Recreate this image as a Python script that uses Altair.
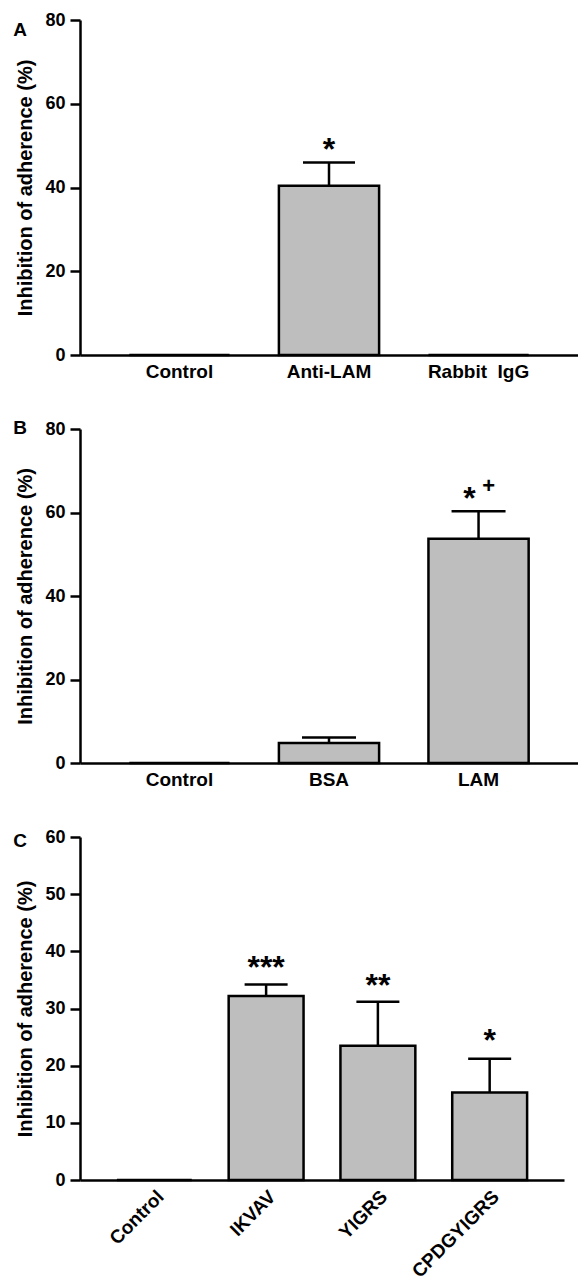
import altair as alt
import pandas as pd

FONT = "Liberation Sans"
FILL = "#bebebe"

# Panel A
a_cats = ["Control", "Anti-LAM", "Rabbit\u00a0 IgG"]
a_vals = [0, 40.4, 0]
a_err = [None, 46.0, None]
a_sig_cat = ["Anti-LAM"]
a_sig_txt = ["*"]
a_sig_y = [50.9]

# Panel B
b_cats = ["Control", "BSA", "LAM"]
b_vals = [0, 4.8, 53.7]
b_err = [None, 6.1, 60.3]
b_sig_cat = ["LAM"]
b_sig_txt = ["*"]
b_sig_y = [65.1]
b_plus_cat = ["LAM"]
b_plus_txt = ["+"]
b_plus_y = [66.3]

# Panel C
c_cats = ["Control", "IKVAV", "YIGRS", "CPDGYIGRS"]
c_vals = [0, 32.2, 23.5, 15.3]
c_err = [None, 34.2, 31.2, 21.2]
c_sig_cat = ["IKVAV", "YIGRS", "CPDGYIGRS"]
c_sig_txt = ["***", "**", "*"]
c_sig_y = [38.4, 35.3, 25.7]

Y_TITLE = "Inhibition of adherence (%)"


def panel(letter, cats, vals, errs, sig_cat, sig_txt, sig_y, ymax, ystep,
          width, height, cap, label_angle=0, letter_y=0, extra=None):
    df = pd.DataFrame({"cat": cats, "val": vals, "err": errs})
    dfe = df.dropna(subset=["err"])
    dfs = pd.DataFrame({"cat": sig_cat, "txt": sig_txt, "y": sig_y})

    xscale = alt.Scale(domain=cats, paddingInner=0.33, paddingOuter=0.33)
    yscale = alt.Scale(domain=[0, ymax], nice=False)
    xaxis = alt.Axis(title=None, labelAngle=label_angle, ticks=False,
                     labelPadding=7, labelFontSize=19)
    yaxis = alt.Axis(title=Y_TITLE, values=list(range(0, ymax + 1, ystep)),
                     tickSize=10, labelPadding=5, titlePadding=9,
                     grid=False, labelFontSize=18, titleFontSize=20)

    x = alt.X("cat:N", scale=xscale, axis=xaxis, sort=cats)
    bars = alt.Chart(df).mark_bar(fill=FILL, stroke="black", strokeWidth=2.5).encode(
        x=x, y=alt.Y("val:Q", scale=yscale, axis=yaxis))
    whisk = alt.Chart(dfe).mark_rule(color="black", strokeWidth=2.5).encode(
        x=alt.X("cat:N", scale=xscale, sort=cats), y="val:Q", y2="err:Q")
    caps = alt.Chart(dfe).mark_tick(color="black", orient="horizontal", size=cap,
                                    thickness=2.5, opacity=1).encode(
        x=alt.X("cat:N", scale=xscale, sort=cats), y="err:Q")
    stars = alt.Chart(dfs).mark_text(font=FONT, fontWeight="bold", fontSize=32,
                                     baseline="alphabetic", dy=18,
                                     dx=(-9 if extra is not None else 0)).encode(
        x=alt.X("cat:N", scale=xscale, sort=cats), y="y:Q", text="txt:N")
    lab = alt.Chart(pd.DataFrame({"t": [letter]})).mark_text(
        font=FONT, fontWeight="bold", fontSize=19, align="center", baseline="middle").encode(
        x=alt.value(-60), y=alt.value(letter_y), text="t:N")
    layers = [bars, whisk, caps, stars, lab]
    if extra is not None:
        dfp = pd.DataFrame({"cat": extra[0], "txt": extra[1], "y": extra[2]})
        plus = alt.Chart(dfp).mark_text(font=FONT, fontWeight="bold", fontSize=22,
                                        baseline="middle", dx=10).encode(
            x=alt.X("cat:N", scale=xscale, sort=cats), y="y:Q", text="txt:N")
        layers.append(plus)
    return alt.layer(*layers).properties(width=width, height=height)


pa = panel("A", a_cats, a_vals, a_err, a_sig_cat, a_sig_txt, a_sig_y, 80, 20,
           498, 335, 52, letter_y=10)
pb = panel("B", b_cats, b_vals, b_err, b_sig_cat, b_sig_txt, b_sig_y, 80, 20,
           498, 334, 54, letter_y=-1, extra=(b_plus_cat, b_plus_txt, b_plus_y))
pc = panel("C", c_cats, c_vals, c_err, c_sig_cat, c_sig_txt, c_sig_y, 60, 10,
           484, 343, 43, label_angle=-45, letter_y=4)

chart = alt.vconcat(pa, pb, pc, spacing=74, bounds="flush").resolve_scale(
    x="independent", y="independent"
).properties(padding={"left": 13, "top": 11, "right": 0, "bottom": 0}).configure_view(
    stroke=None
).configure_axis(
    domainColor="black", domainWidth=2.5, tickColor="black", tickWidth=2.5,
    labelColor="black", titleColor="black", labelFont=FONT, titleFont=FONT,
    labelFontWeight="bold", titleFontWeight="bold"
)

chart.save("out.html", embed_options={"renderer": "svg", "actions": False})
